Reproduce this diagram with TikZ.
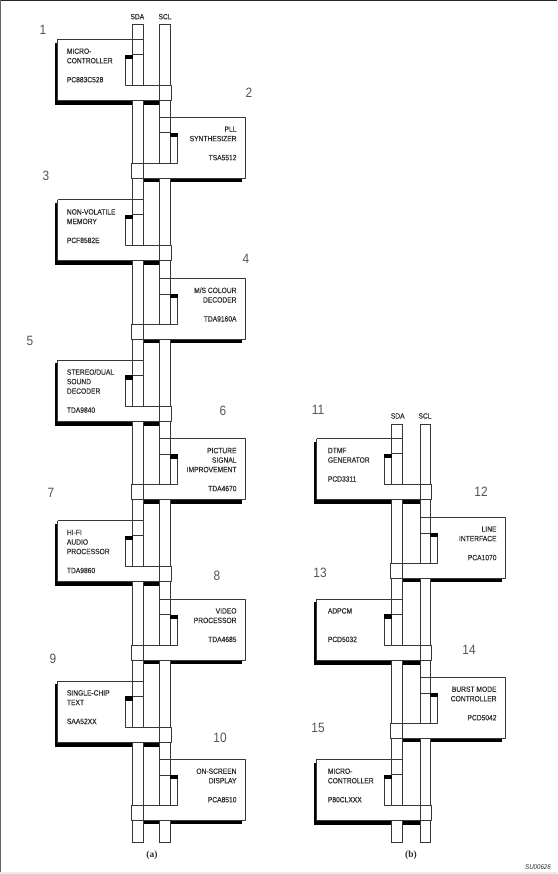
\documentclass[tikz,border=0pt]{standalone}
\usepackage{fontspec}
\newfontfamily\chipfont[FakeStretch=0.88,FakeBold=0.25]{Liberation Sans}
\newfontfamily\numfont[FakeStretch=0.88]{Liberation Sans}
\newfontfamily\capfont{Liberation Serif}
\usepackage{tikz}
\usetikzlibrary{positioning}
\definecolor{Wire}{RGB}{55,55,55}
\definecolor{Ink}{RGB}{45,45,45}
\definecolor{NumInk}{RGB}{85,85,85}

%% chip outlines, top edge given as #1
\newcommand{\leftchip}[1]{%
  \draw[wire] (\chipL,#1) -- (\sdaR+0.4,#1) -- (\sdaR+0.4,#1+15) -- (\sdaL,#1+15);
  \draw[wire] (\chipL,#1) -- (\chipL,#1+61) -- (\sclR+0.8,#1+61) -- (\sclR+0.8,#1+46)
    -- (\sdaL-7.4,#1+46) -- (\sdaL-7.4,#1+16);
  \draw[wire] (\sclL,#1+46) -- (\sclL,#1+61);
  \fill[black] (\sdaL-7.4,#1+15.3) rectangle (\sdaL,#1+19.5);
}
\newcommand{\rightchip}[1]{%
  \draw[wire] (\sclL,#1) -- (\chipR,#1) -- (\chipR,#1+61) -- (\sdaL-0.8,#1+61)
    -- (\sdaL-0.8,#1+46) -- (\sclR+7.3,#1+46) -- (\sclR+7.3,#1+17);
  \draw[wire] (\sclL,#1) -- (\sclL,#1+15.7) -- (\sclR+0.8,#1+15.7);
  \draw[wire] (\sdaR,#1+46) -- (\sdaR,#1+61);
  \fill[black] (\sclR,#1+15.7) rectangle (\sclR+7.3,#1+20);
}
\newcommand{\leftshadow}[1]{%
  \fill[black] (\chipL-2.7,#1+3.4) rectangle (\chipL,#1+65.5);
  \fill[black] (\chipL-2.7,#1+61) rectangle (\sclL,#1+65.5);
}
\newcommand{\rightshadow}[1]{%
  \fill[black] (\sdaR,#1+61) rectangle (\chipR-3.3,#1+65);
}

\begin{document}
\begin{tikzpicture}[x=1pt, y=-1pt,
  wire/.style   = {draw=Wire, line width=1pt, line join=round},
  bus/.style    = {draw=Wire, fill=white, line width=1pt},
  lefttxt/.style  = {anchor=north west, align=left, inner sep=0pt, text=Ink,
                     font=\chipfont\fontsize{7.6}{9.5}\selectfont},
  righttxt/.style = {anchor=north east, align=right, inner sep=0pt, text=Ink,
                     font=\chipfont\fontsize{7.6}{9.5}\selectfont},
  buslbl/.style = {inner sep=0pt, text=Ink, font=\chipfont\fontsize{7.6}{9}\selectfont},
  numlbl/.style = {inner sep=0pt, text=NumInk, font=\numfont\fontsize{13.5}{14}\selectfont},
  sublbl/.style = {inner sep=0pt, text=Ink, font=\capfont\bfseries\fontsize{9.5}{10}\selectfont}
]
  \useasboundingbox (0,0) rectangle (557,874);
  \fill[white] (0,0) rectangle (557,874);

  %% frame of the scan
  \fill[black!85] (0,0) rectangle (557,1.2);
  \fill[black!60] (0,0) rectangle (1,874);
  \fill[black!8] (0,872) rectangle (557,874);

  %% Diagram (a)
  \def\sdaL{132.7} \def\sdaR{143.3} \def\sclL{159.3} \def\sclR{170.2}
  \def\chipL{57.7} \def\chipR{245}
  \foreach \T in {39.3,200,360,520.7,681} {\leftshadow{\T}}
  \foreach \T in {117.3,278.3,438.7,599,759.3} {\rightshadow{\T}}
  \foreach \from/\to in {25/85.3,100.3/163.3,178.3/246,261/324.3,339.3/406,421/484.7,
                         499.7/566.7,581.7/645,660/727,742/805.3,820.3/842} {
    \draw[bus] (\sdaL,\from) rectangle (\sdaR,\to);
    \draw[bus] (\sclL,\from) rectangle (\sclR,\to);
  }
  \foreach \T in {39.3,200,360,520.7,681} {\leftchip{\T}}
  \foreach \T in {117.3,278.3,438.7,599,759.3} {\rightchip{\T}}

  \node[lefttxt]  (mc)  at (66.7,48.3)  {MICRO-\\CONTROLLER\\[9.5pt]PC883C528};
  \node[righttxt] (pll) at (236.7,126.3) {PLL\\SYNTHESIZER\\[9.5pt]TSA5512};
  \node[lefttxt]  (nvm) at (66.7,209)   {NON-VOLATILE\\MEMORY\\[9.5pt]PCF8582E};
  \node[righttxt] (col) at (236.7,287.3) {M/S COLOUR\\DECODER\\[9.5pt]TDA9160A};
  \node[lefttxt]  (snd) at (66.7,369)   {STEREO/DUAL\\SOUND\\DECODER\\[9.5pt]TDA9840};
  \node[righttxt] (pic) at (236.7,447.7) {PICTURE\\SIGNAL\\IMPROVEMENT\\[9.5pt]TDA4670};
  \node[lefttxt]  (hif) at (66.7,529.7) {HI-FI\\AUDIO\\PROCESSOR\\[9.5pt]TDA9860};
  \node[righttxt] (vid) at (236.7,608)  {VIDEO\\PROCESSOR\\[9.5pt]TDA4685};
  \node[lefttxt]  (txt) at (66.7,690)   {SINGLE-CHIP\\TEXT\\[9.5pt]SAA52XX};
  \node[righttxt] (osd) at (236.7,768.3) {ON-SCREEN\\DISPLAY\\[9.5pt]PCA8510};

  \node[buslbl] (sdaa) at (137.3,16.7) {SDA};
  \node[buslbl] (scla) at (165,16.7) {SCL};
  \node[sublbl] (capa) at (152,855) {(a)};

  \node[numlbl] (n1)  at (43,30)   {1};
  \node[numlbl] (n2)  at (249,93)  {2};
  \node[numlbl] (n3)  at (46,176)  {3};
  \node[numlbl] (n4)  at (246,259) {4};
  \node[numlbl] (n5)  at (30,341)  {5};
  \node[numlbl] (n6)  at (223,411) {6};
  \node[numlbl] (n7)  at (51,493)  {7};
  \node[numlbl] (n8)  at (217,576) {8};
  \node[numlbl] (n9)  at (53,659)  {9};
  \node[numlbl] (n10) at (220,738) {10};

  %% Diagram (b)
  \def\sdaL{391.7} \def\sdaR{402.3} \def\sclL{420} \def\sclR{430.3}
  \def\chipL{316.7} \def\chipR{505.3}
  \foreach \T in {438.7,599,759.3} {\leftshadow{\T}}
  \foreach \T in {517.3,677.3} {\rightshadow{\T}}
  \foreach \from/\to in {424/484.7,499.7/563.3,578.3/645,660/723.3,738.3/805.3,820.3/842} {
    \draw[bus] (\sdaL,\from) rectangle (\sdaR,\to);
    \draw[bus] (\sclL,\from) rectangle (\sclR,\to);
  }
  \foreach \T in {438.7,599,759.3} {\leftchip{\T}}
  \foreach \T in {517.3,677.3} {\rightchip{\T}}

  \node[lefttxt]  (dtmf) at (327.7,447.7) {DTMF\\GENERATOR\\[9.5pt]PCD3311};
  \node[righttxt] (line) at (496.7,526.3) {LINE\\INTERFACE\\[9.5pt]PCA1070};
  \node[lefttxt]  (adp)  at (327.7,608)   {ADPCM\\[19pt]PCD5032};
  \node[righttxt] (bur)  at (496.7,686.3) {BURST MODE\\CONTROLLER\\[9.5pt]PCD5042};
  \node[lefttxt]  (mc2)  at (327.7,768.3) {MICRO-\\CONTROLLER\\[9.5pt]P80CLXXX};

  \node[buslbl] (sdab) at (397.7,416) {SDA};
  \node[buslbl] (sclb) at (425,416) {SCL};
  \node[sublbl] (capb) at (411,855) {(b)};

  \node[numlbl] (n11) at (318,410) {11};
  \node[numlbl] (n12) at (481,492) {12};
  \node[numlbl] (n13) at (320,573) {13};
  \node[numlbl] (n14) at (469,650) {14};
  \node[numlbl] (n15) at (318,728) {15};

  \node[inner sep=0pt, text=Ink, font=\numfont\itshape\fontsize{7}{8}\selectfont]
    (code) at (538,866.7) {SU00626};
\end{tikzpicture}
\end{document}
